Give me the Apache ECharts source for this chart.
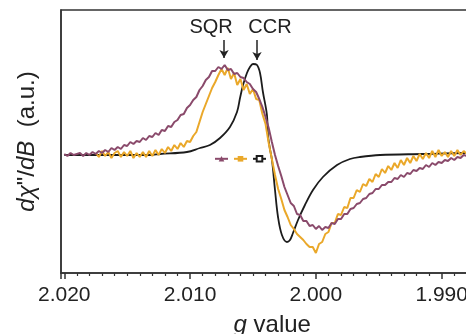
<!DOCTYPE html>
<html>
<head>
<meta charset="utf-8">
<script src="https://cdn.jsdelivr.net/npm/echarts@6/dist/echarts.min.js"></script>
<style>
  html, body { margin: 0; padding: 0; background: #fff; }
  #chart { width: 466px; height: 334px; }
</style>
</head>
<body>
<div id="chart"></div>
<script>
// g grid shared by the two noisy traces (step 0.00025)
const gGrid = [
  2.02000, 2.01975, 2.01950, 2.01925, 2.01900, 2.01875, 2.01850, 2.01825, 2.01800, 2.01775,
  2.01750, 2.01725, 2.01700, 2.01675, 2.01650, 2.01625, 2.01600, 2.01575, 2.01550, 2.01525,
  2.01500, 2.01475, 2.01450, 2.01425, 2.01400, 2.01375, 2.01350, 2.01325, 2.01300, 2.01275,
  2.01250, 2.01225, 2.01200, 2.01175, 2.01150, 2.01125, 2.01100, 2.01075, 2.01050, 2.01025,
  2.01000, 2.00975, 2.00950, 2.00925, 2.00900, 2.00875, 2.00850, 2.00825, 2.00800, 2.00775,
  2.00750, 2.00725, 2.00700, 2.00675, 2.00650, 2.00625, 2.00600, 2.00575, 2.00550, 2.00525,
  2.00500, 2.00475, 2.00450, 2.00425, 2.00400, 2.00375, 2.00350, 2.00325, 2.00300, 2.00275,
  2.00250, 2.00225, 2.00200, 2.00175, 2.00150, 2.00125, 2.00100, 2.00075, 2.00050, 2.00025,
  2.00000, 1.99975, 1.99950, 1.99925, 1.99900, 1.99875, 1.99850, 1.99825, 1.99800, 1.99775,
  1.99750, 1.99725, 1.99700, 1.99675, 1.99650, 1.99625, 1.99600, 1.99575, 1.99550, 1.99525,
  1.99500, 1.99475, 1.99450, 1.99425, 1.99400, 1.99375, 1.99350, 1.99325, 1.99300, 1.99275,
  1.99250, 1.99225, 1.99200, 1.99175, 1.99150, 1.99125, 1.99100, 1.99075, 1.99050, 1.99025,
  1.99000, 1.98975, 1.98950, 1.98925, 1.98900, 1.98875, 1.98850, 1.98825, 1.98800, 1.98775,
  1.98750
]

// SQR trace (mauve), arbitrary units
const sqrSignal = [
  1, -1, 2, 0, 1, 2, -1, 2, 0, 3,
  1, 4, 2, 5, 3, 7, 5, 8, 6, 10,
  9, 13, 11, 14, 13, 17, 15, 19, 18, 22,
  20, 25, 24, 29, 28, 33, 35, 40, 41, 47,
  50, 55, 58, 65, 69, 75, 78, 84, 84, 88,
  86, 90, 85, 86, 81, 82, 78, 77, 73, 71,
  66, 63, 56, 48, 38, 27, 13, 0, -11, -21,
  -32, -40, -48, -51, -59, -60, -66, -66, -71, -70,
  -74, -71, -75, -72, -73, -68, -69, -64, -64, -59,
  -59, -54, -53, -49, -48, -44, -43, -39, -38, -34,
  -34, -30, -30, -27, -27, -23, -24, -20, -22, -18,
  -19, -15, -16, -13, -14, -10, -12, -8, -10, -7,
  -8, -5, -6, -3, -5, -2, -3, 0, -1, 1,
  0
]

// mixed trace (orange)
const mixSignal = [
  null, null, null, null, null, null, null, null, null, null,
  2, -2, 4, -1, 3, -3, 2, 4, -2, 3,
  -1, 4, -3, 2, -2, 3, -2, 4, -1, 5,
  0, 6, 2, 8, 4, 10, 6, 12, 8, 14,
  13, 19, 23, 33, 43, 51, 59, 67, 73, 80,
  86, 80, 87, 76, 82, 70, 76, 65, 71, 61,
  66, 56, 55, 41, 31, 12, -4, -20, -34, -44,
  -55, -62, -70, -74, -79, -82, -85, -89, -92, -92,
  -98, -89, -87, -79, -77, -68, -68, -59, -60, -52,
  -53, -43, -43, -35, -37, -29, -31, -24, -27, -19,
  -22, -14, -18, -11, -15, -8, -13, -5, -10, -3,
  -8, -1, -6, 1, -4, 2, -3, 4, -2, 5,
  -1, 3, -2, 4, -1, 5, 0, 4, 1, 5,
  1
]

// CCR trace (black), smooth
const ccrG = [
  2.02000, 2.01716, 2.01319, 2.01239, 2.01025, 2.00921, 2.00842, 2.00762, 2.00683, 2.00627,
  2.00603, 2.00579, 2.00548, 2.00524, 2.00500, 2.00468, 2.00444, 2.00421, 2.00389, 2.00381,
  2.00365, 2.00349, 2.00325, 2.00301, 2.00270, 2.00230, 2.00206, 2.00182, 2.00142, 2.00087,
  2.00023, 1.99944, 1.99832, 1.99729, 1.99649, 1.99490, 1.99149, 1.98807, 1.98672
]
const ccrSignal = [
  0, 0, 0, 1, 3, 7, 10, 17, 28, 43,
  57, 70, 82, 88, 91, 90, 82, 63, 40, 20,
  6, -5, -35, -62, -80, -87, -85, -78, -65, -50,
  -35, -22, -10, -4, -2, 0, 1, 2, 2
]

const xTicks = { min: 1.98, max: 2.02026, interval: 0.01 }

const chart = echarts.init(document.getElementById('chart'))

const font = 'Liberation Sans, Arial, sans-serif'

chart.setOption({
  animation: false,
  textStyle: { fontFamily: font },
  grid: {
    left: 61, top: 10, bottom: 61, right: -101.5,
    outerBoundsMode: 'none',
    show: true, borderColor: '#333', borderWidth: 1.5,
  },
  legend: {
    left: 209, top: 150,
    itemWidth: 13, itemHeight: 7, itemGap: 4,
    formatter: () => '',
    selectedMode: false,
    data: ['SQR', 'mix', 'CCR'],
  },
  xAxis: {
    type: 'value',
    inverse: true,
    min: xTicks.min,
    max: xTicks.max,
    interval: xTicks.interval,
    name: '{i|g} value',
    nameLocation: 'middle',
    nameGap: 40,
    nameTextStyle: {
      fontSize: 24, color: '#222', padding: [0, 84, 0, 0],
      rich: { i: { fontSize: 24, fontStyle: 'italic', color: '#222' } },
    },
    axisLine: { onZero: false, lineStyle: { color: '#333', width: 1.5 } },
    axisTick: { length: 6, lineStyle: { color: '#333', width: 1.5 } },
    minorTick: { show: true, splitNumber: 10, length: 3, lineStyle: { color: '#333', width: 1.2 } },
    axisLabel: { fontSize: 21, color: '#222', margin: 12, formatter: v => v.toFixed(3) },
    splitLine: { show: false },
  },
  yAxis: {
    type: 'value',
    min: -118,
    max: 145,
    name: '{i|dχ}"/{i|dB}  (a.u.)',
    nameLocation: 'middle',
    nameGap: 22,
    nameTextStyle: {
      fontSize: 24, color: '#222',
      rich: { i: { fontSize: 24, fontStyle: 'italic', color: '#222' } },
    },
    axisLine: { show: true, lineStyle: { color: '#333', width: 1.5 } },
    axisTick: { show: false },
    axisLabel: { show: false },
    splitLine: { show: false },
  },
  series: [
    {
      name: 'CCR',
      type: 'line',
      data: ccrG.map((g, i) => [g, ccrSignal[i]]),
      smooth: 0.35,
      symbol: 'emptyRect',
      symbolSize: 6,
      showSymbol: false,
      lineStyle: { color: '#1c1c1c', width: 1.8 },
      itemStyle: { color: '#1c1c1c' },
      z: 2,
      markLine: {
        silent: true,
        symbol: ['none', 'arrow'],
        symbolSize: [7, 8],
        lineStyle: { color: '#222', width: 1.5, type: 'solid' },
        label: { show: true, position: 'start', fontSize: 20, color: '#222', distance: 3 },
        data: [
          [
            { coord: [2.0073, 115], label: { formatter: 'SQR', offset: [-13, 0] } },
            { coord: [2.0073, 97] },
          ],
          [
            { coord: [2.00468, 115], label: { formatter: 'CCR', offset: [13, 0] } },
            { coord: [2.00468, 95] },
          ],
        ],
      },
    },
    {
      name: 'mix',
      type: 'line',
      data: gGrid.map((g, i) => [g, mixSignal[i]]),
      symbol: 'rect',
      symbolSize: 6,
      showSymbol: false,
      connectNulls: false,
      lineStyle: { color: '#eaa82a', width: 2 },
      itemStyle: { color: '#eaa82a' },
      z: 3,
    },
    {
      name: 'SQR',
      type: 'line',
      data: gGrid.map((g, i) => [g, sqrSignal[i]]),
      symbol: 'triangle',
      symbolSize: 6,
      showSymbol: false,
      lineStyle: { color: '#8a4a6b', width: 2 },
      itemStyle: { color: '#8a4a6b' },
      z: 4,
    },
  ],
})
</script>
</body>
</html>
